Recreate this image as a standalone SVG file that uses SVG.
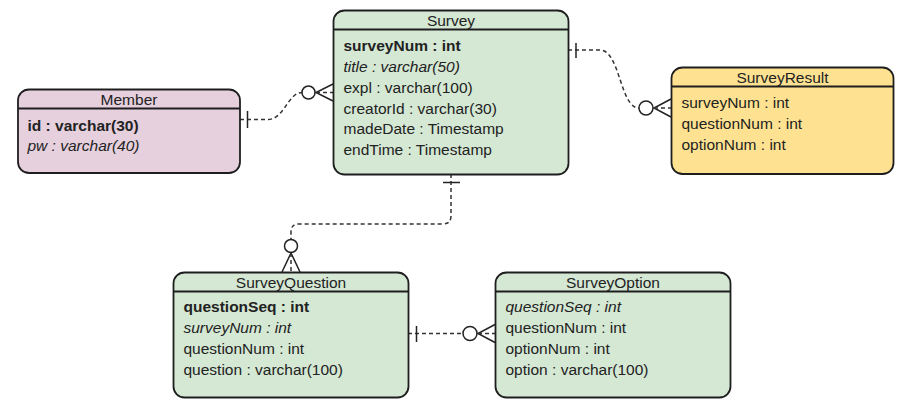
<svg xmlns="http://www.w3.org/2000/svg" width="909" height="411" viewBox="0 0 909 411">
<style>
.box{stroke:#1e1e1e;stroke-width:1.8}
.hdr{stroke:#1e1e1e;stroke-width:1.8;fill:none}
text{font-family:"Liberation Sans",Arial,sans-serif;font-size:15.5px;fill:#222}
.t{text-anchor:middle}
.b{font-weight:bold}
.i{font-style:italic}
.dash{fill:none;stroke:#333;stroke-width:1.5;stroke-dasharray:4 3}
.sym{fill:none;stroke:#222;stroke-width:1.5}
.circ{fill:#fff;stroke:#222;stroke-width:1.5}
</style>
<rect width="909" height="411" fill="#fff"/>
<g id="connectors">
  <!-- Member - Survey -->
  <path class="dash" d="M240,119.5 H268 C284,119.5 288,92.5 302,92.5"/>
  <line class="sym" x1="247.5" y1="111" x2="247.5" y2="128"/>
  <circle class="circ" cx="308.5" cy="92.5" r="6.5"/>
  <path class="sym" d="M333,84 L316,92.5 L333,101"/>
  <line class="dash" x1="316" y1="92.5" x2="333" y2="92.5"/>
  <!-- Survey - SurveyResult -->
  <path class="dash" d="M568,50 H600 C620,50 620,108 639,108"/>
  <line class="sym" x1="576" y1="43" x2="576" y2="58"/>
  <circle class="circ" cx="646" cy="108" r="7"/>
  <path class="sym" d="M671,99 L654,108 L671,117"/>
  <line class="dash" x1="654" y1="108" x2="671" y2="108"/>
  <!-- Survey - SurveyQuestion -->
  <path class="dash" d="M451,174 V216 Q451,224 443,224 H299 Q291,224 291,232 V239.5"/>
  <line class="sym" x1="443" y1="182.5" x2="460" y2="182.5"/>
  <circle class="circ" cx="291" cy="246" r="6.5"/>
  <path class="sym" d="M282,272 L291,253 L300,272"/>
  <line class="dash" x1="291" y1="253" x2="291" y2="272"/>
  <!-- SurveyQuestion - SurveyOption -->
  <path class="dash" d="M408,333.5 H463"/>
  <line class="sym" x1="416.5" y1="326" x2="416.5" y2="342"/>
  <circle class="circ" cx="470" cy="333.5" r="7"/>
  <path class="sym" d="M495,324.5 L478,333.5 L495,342.5"/>
  <line class="dash" x1="478" y1="333.5" x2="495" y2="333.5"/>
</g>
<g id="Member">
  <rect class="box" x="18" y="89.5" width="222" height="83.5" rx="11" fill="#e6d0de"/>
  <line class="hdr" x1="18" y1="108.5" x2="240" y2="108.5"/>
  <text class="t" x="129" y="105">Member</text>
  <text class="b" x="27.5" y="130.5">id : varchar(30)</text>
  <text class="i" x="27.5" y="151">pw : varchar(40)</text>
</g>
<g id="Survey">
  <rect class="box" x="333.5" y="10.5" width="235" height="164" rx="11" fill="#d5e8d4"/>
  <line class="hdr" x1="333.5" y1="29.5" x2="568.5" y2="29.5"/>
  <text class="t" x="451" y="25.5">Survey</text>
  <text class="b" x="343.5" y="51">surveyNum : int</text>
  <text class="i" x="343.5" y="71.5">title : varchar(50)</text>
  <text x="343.5" y="92.5">expl : varchar(100)</text>
  <text x="343.5" y="113.5">creatorId : varchar(30)</text>
  <text x="343.5" y="134">madeDate : Timestamp</text>
  <text x="343.5" y="155">endTime : Timestamp</text>
</g>
<g id="SurveyResult">
  <rect class="box" x="671.5" y="67.5" width="222" height="106.5" rx="11" fill="#ffe291"/>
  <line class="hdr" x1="671.5" y1="86.5" x2="893.5" y2="86.5"/>
  <text class="t" x="782.5" y="83">SurveyResult</text>
  <text x="681.5" y="107.5">surveyNum : int</text>
  <text x="681.5" y="128.5">questionNum : int</text>
  <text x="681.5" y="149.5">optionNum : int</text>
</g>
<g id="SurveyQuestion">
  <rect class="box" x="173.5" y="272.5" width="235" height="125" rx="11" fill="#d5e8d4"/>
  <line class="hdr" x1="173.5" y1="291.5" x2="408.5" y2="291.5"/>
  <text class="t" x="291" y="288">SurveyQuestion</text>
  <text class="b" x="183.5" y="312">questionSeq : int</text>
  <text class="i" x="183.5" y="333">surveyNum : int</text>
  <text x="183.5" y="354">questionNum : int</text>
  <text x="183.5" y="375">question : varchar(100)</text>
</g>
<g id="SurveyOption">
  <rect class="box" x="495.5" y="272.5" width="235" height="125" rx="11" fill="#d5e8d4"/>
  <line class="hdr" x1="495.5" y1="291.5" x2="730.5" y2="291.5"/>
  <text class="t" x="613" y="288">SurveyOption</text>
  <text class="i" x="505.5" y="312">questionSeq : int</text>
  <text x="505.5" y="333">questionNum : int</text>
  <text x="505.5" y="354">optionNum : int</text>
  <text x="505.5" y="375">option : varchar(100)</text>
</g>
</svg>
